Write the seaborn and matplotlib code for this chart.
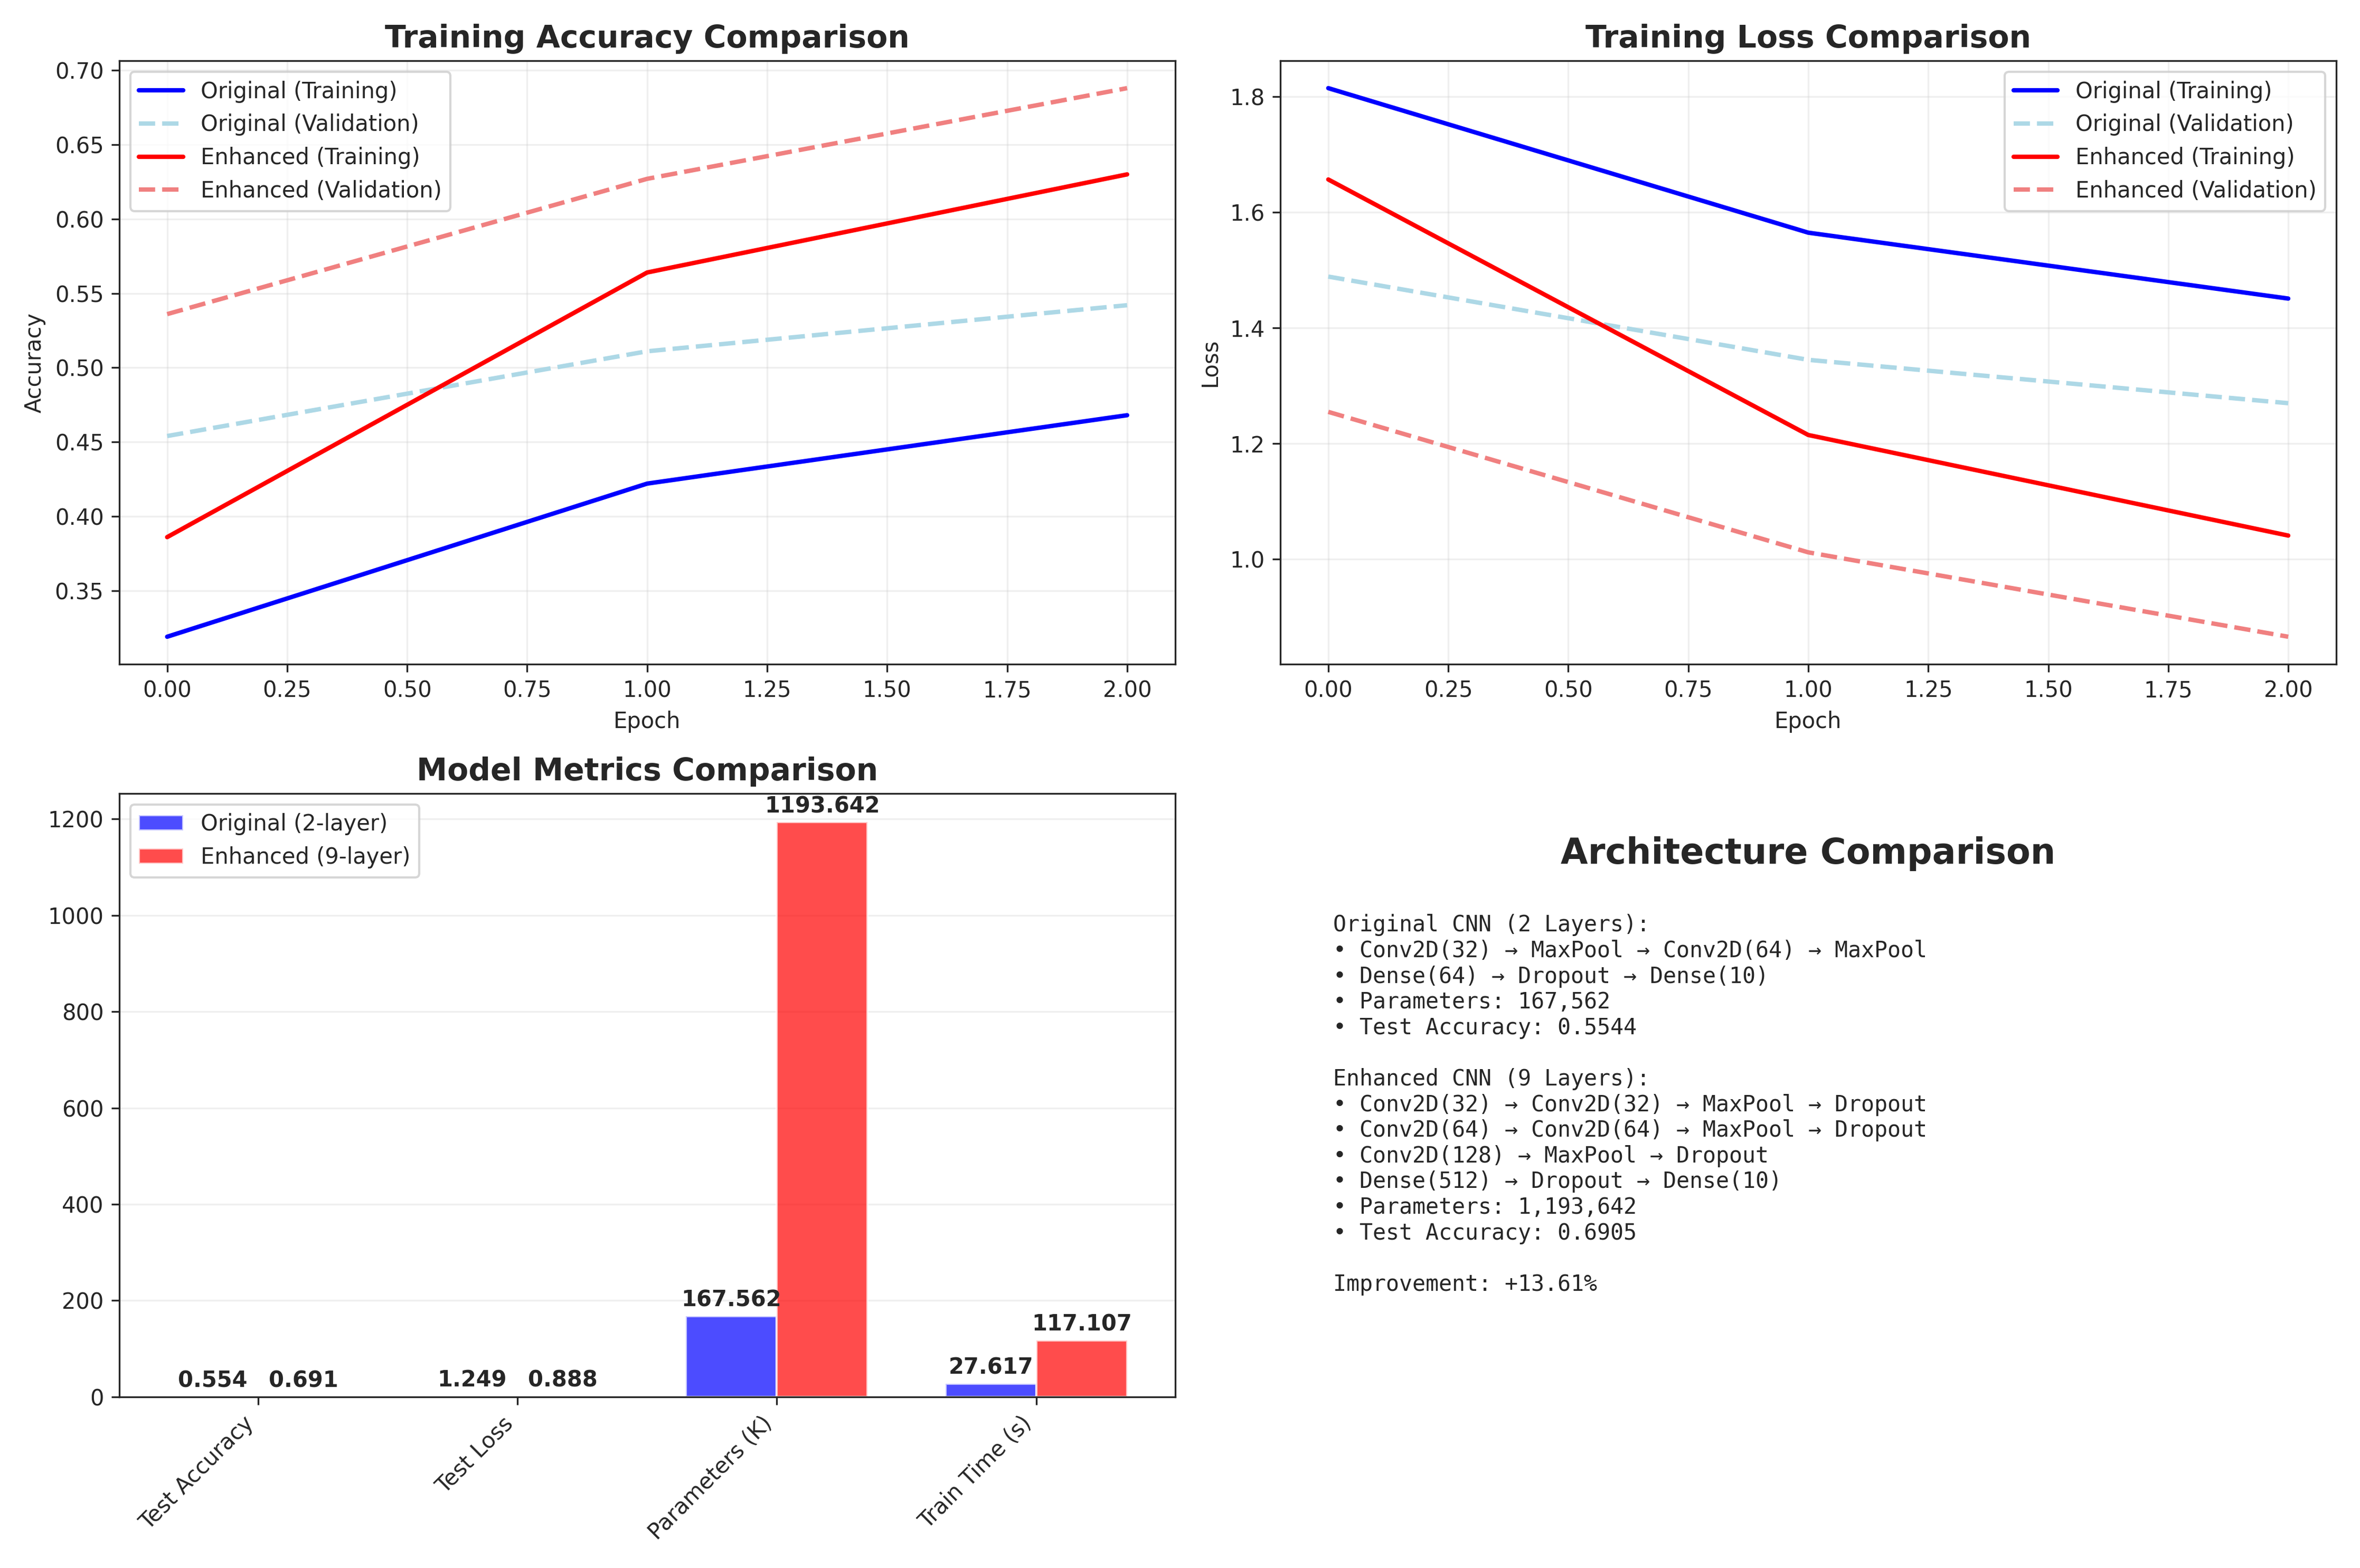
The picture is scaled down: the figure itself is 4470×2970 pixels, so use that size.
import matplotlib
matplotlib.use("Agg")
import numpy as np
import pandas as pd
import matplotlib.pyplot as plt
import seaborn as sns

sns.set_style("ticks")
plt.rcParams["font.family"] = ["DejaVu Sans"]

epochs = [0, 1, 2]
orig_train_acc = [0.319, 0.422, 0.468]
orig_val_acc = [0.454, 0.511, 0.542]
enh_train_acc = [0.386, 0.564, 0.630]
enh_val_acc = [0.536, 0.627, 0.688]

orig_train_loss = [1.815, 1.565, 1.451]
orig_val_loss = [1.489, 1.345, 1.270]
enh_train_loss = [1.657, 1.215, 1.041]
enh_val_loss = [1.255, 1.012, 0.866]

metric_names = ["Test Accuracy", "Test Loss", "Parameters (K)", "Train Time (s)"]
orig_metrics = [0.554, 1.249, 167.562, 27.617]
enh_metrics = [0.691, 0.888, 1193.642, 117.107]

arch_text = """Original CNN (2 Layers):
• Conv2D(32) → MaxPool → Conv2D(64) → MaxPool
• Dense(64) → Dropout → Dense(10)
• Parameters: 167,562
• Test Accuracy: 0.5544

Enhanced CNN (9 Layers):
• Conv2D(32) → Conv2D(32) → MaxPool → Dropout
• Conv2D(64) → Conv2D(64) → MaxPool → Dropout
• Conv2D(128) → MaxPool → Dropout
• Dense(512) → Dropout → Dense(10)
• Parameters: 1,193,642
• Test Accuracy: 0.6905

Improvement: +13.61%"""

fig, axes = plt.subplots(2, 2, figsize=(14.9, 9.9), dpi=300)

def curves(ax, series, title, ylabel):
    styles = [("Original (Training)", "blue", "-", 1.0),
              ("Original (Validation)", "lightblue", "--", 1.0),
              ("Enhanced (Training)", "red", "-", 1.0),
              ("Enhanced (Validation)", "lightcoral", "--", 1.0)]
    for vals, (lab, c, ls, a) in zip(series, styles):
        sns.lineplot(x=epochs, y=vals, ax=ax, label=lab, color=c, linestyle=ls, linewidth=2)
    ax.set_title(title, fontsize=14, fontweight="bold")
    ax.set_xlabel("Epoch")
    ax.set_ylabel(ylabel)
    ax.grid(True, alpha=0.3)
    ax.legend()

curves(axes[0, 0], [orig_train_acc, orig_val_acc, enh_train_acc, enh_val_acc],
       "Training Accuracy Comparison", "Accuracy")
curves(axes[0, 1], [orig_train_loss, orig_val_loss, enh_train_loss, enh_val_loss],
       "Training Loss Comparison", "Loss")
axes[0, 1].legend(loc="upper right")

ax = axes[1, 0]
x = np.arange(len(metric_names))
w = 0.35
b1 = ax.bar(x - w / 2, orig_metrics, w, color="blue", alpha=0.7, label="Original (2-layer)")
b2 = ax.bar(x + w / 2, enh_metrics, w, color="red", alpha=0.7, label="Enhanced (9-layer)")
for bars in (b1, b2):
    for b in bars:
        h = b.get_height()
        ax.text(b.get_x() + b.get_width() / 2, h + 10, f"{h:.3f}",
                ha="center", va="bottom", fontweight="bold")
ax.set_xticks(x)
ax.set_xticklabels(metric_names, rotation=45, ha="right")
ax.set_title("Model Metrics Comparison", fontsize=14, fontweight="bold")
ax.legend(loc="upper left")
ax.grid(True, alpha=0.3, axis="y")

ax = axes[1, 1]
ax.axis("off")
ax.text(0.5, 0.9, "Architecture Comparison", ha="center", va="center",
        fontsize=16, fontweight="bold", transform=ax.transAxes)
ax.text(0.05, 0.8, arch_text, ha="left", va="top", fontsize=10,
        family="monospace", transform=ax.transAxes)

plt.tight_layout()
plt.savefig("out.png", dpi=300)
